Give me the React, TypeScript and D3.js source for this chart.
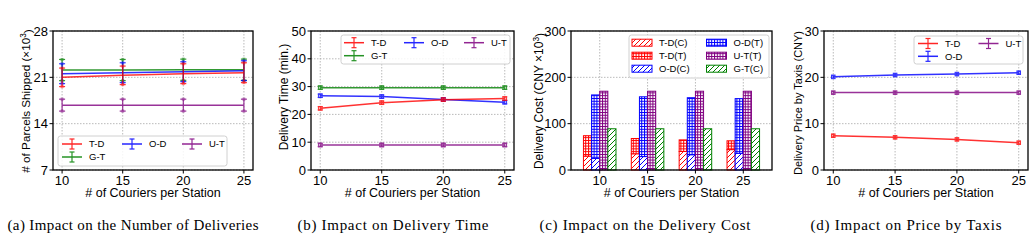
import React, { useEffect, useRef } from "react";
import * as d3 from "d3";

const W = 1035;
const H = 240;

const couriers = [10, 15, 20, 25];

// (a) parcels shipped, x10^3
const parcelsTD = [21.0, 21.3, 21.55, 21.7];
const parcelsTDErr = [1.4, 1.4, 1.5, 1.5];
const parcelsOD = [21.55, 21.7, 21.85, 22.0];
const parcelsODErr = [1.5, 1.5, 1.5, 1.5];
const parcelsGT = [22.1, 22.1, 22.15, 22.15];
const parcelsGTErr = [1.6, 1.6, 1.6, 1.6];
const parcelsUT = [16.8, 16.8, 16.8, 16.8];
const parcelsUTErr = [0.9, 0.9, 0.9, 0.9];

// (b) delivery time, minutes
const timeTD = [22.2, 24.2, 25.3, 25.7];
const timeOD = [26.7, 26.4, 25.4, 24.4];
const timeGT = [29.6, 29.6, 29.6, 29.6];
const timeUT = [9.0, 9.0, 9.0, 9.0];
const timeErr = [0.6, 0.6, 0.6, 0.6];

// (c) delivery cost, CNY x10^3 (C = courier part, T = taxi part)
const costTDC = [30, 35, 40, 44];
const costTDT = [44, 33, 25, 19];
const costODC = [25, 29, 33, 36];
const costODT = [137, 129, 123, 118];
const costUTT = [170, 170, 170, 170];
const costGTC = [89, 89, 89, 89];

// (d) price by taxis, CNY
const priceTD = [7.4, 7.05, 6.6, 5.9];
const priceOD = [20.1, 20.5, 20.7, 21.0];
const priceUT = [16.7, 16.7, 16.7, 16.7];
const priceErr = [0.25, 0.25, 0.25, 0.25];

const yTicksA = [7, 14, 21, 28];
const yTicksB = [0, 10, 20, 30, 40, 50];
const yTicksC = [0, 100, 200, 300];
const yTicksD = [0, 10, 20, 30];

const RED = "#ff0000";
const BLUE = "#0000ff";
const PURPLE = "#800080";
const GREEN = "#008000";

const SANS = "'Liberation Sans', Arial, sans-serif";
const SERIF = "'Liberation Serif', 'Times New Roman', serif";
const LABEL_SIZE = 12.5;

type Sel = d3.Selection<SVGGElement, unknown, null, undefined>;

function frame(g: Sel, x0: number, x1: number, y: d3.ScaleLinear<number, number>, yTicks: number[], xTicks: number[], xPos: (v: number, i: number) => number) {
  const y0 = y.range()[1];
  const yb = y.range()[0];
  // dotted grid
  g.selectAll(null).data(yTicks).join("line")
    .attr("x1", x0).attr("x2", x1)
    .attr("y1", d => y(d)).attr("y2", d => y(d))
    .attr("stroke", "#a8a8a8").attr("stroke-width", 0.8).attr("stroke-dasharray", "1.5,1.5");
  g.selectAll(null).data(xTicks).join("line")
    .attr("x1", (d, i) => xPos(d, i)).attr("x2", (d, i) => xPos(d, i))
    .attr("y1", y0).attr("y2", yb)
    .attr("stroke", "#a8a8a8").attr("stroke-width", 0.8).attr("stroke-dasharray", "1.5,1.5");
}

function axes(g: Sel, x0: number, x1: number, y: d3.ScaleLinear<number, number>, yTicks: number[], xTicks: number[], xPos: (v: number, i: number) => number) {
  const yt = y.range()[1];
  const yb = y.range()[0];
  g.append("rect").attr("x", x0).attr("y", yt).attr("width", x1 - x0).attr("height", yb - yt)
    .attr("fill", "none").attr("stroke", "#000").attr("stroke-width", 1.3);
  g.selectAll(null).data(yTicks).join("line")
    .attr("x1", x0 - 3.5).attr("x2", x0).attr("y1", d => y(d)).attr("y2", d => y(d))
    .attr("stroke", "#000").attr("stroke-width", 1);
  g.selectAll(null).data(yTicks).join("text")
    .attr("x", x0 - 5).attr("y", d => y(d)).attr("dy", "0.36em")
    .attr("text-anchor", "end").attr("font-family", SANS).attr("font-size", 13)
    .text(d => d);
  g.selectAll(null).data(xTicks).join("line")
    .attr("x1", (d, i) => xPos(d, i)).attr("x2", (d, i) => xPos(d, i))
    .attr("y1", yb).attr("y2", yb + 3.5)
    .attr("stroke", "#000").attr("stroke-width", 1);
  g.selectAll(null).data(xTicks).join("text")
    .attr("x", (d, i) => xPos(d, i)).attr("y", yb + 14.5)
    .attr("text-anchor", "middle").attr("font-family", SANS).attr("font-size", 13)
    .text(d => d);
  g.append("text")
    .attr("x", (x0 + x1) / 2).attr("y", yb + 27)
    .attr("text-anchor", "middle").attr("font-family", SANS).attr("font-size", LABEL_SIZE)
    .text("# of Couriers per Station");
}

function yLabel(g: Sel, x: number, yc: number, size: number, text: string, sup?: string, tail?: string) {
  const t = g.append("text")
    .attr("transform", `translate(${x},${yc}) rotate(-90)`)
    .attr("dy", "0.35em")
    .attr("text-anchor", "middle").attr("font-family", SANS).attr("font-size", size);
  t.append("tspan").text(text);
  if (sup) {
    t.append("tspan").attr("dy", "-0.45em").attr("font-size", size * 0.7).text(sup);
    t.append("tspan").attr("dy", "0.45em").text(tail || "");
  }
}

// sub-figure caption, spread to the width of the typeset line
function caption(g: Sel, x: number, width: number, text: string) {
  g.append("text").attr("x", x - width / 2).attr("y", 230)
    .attr("font-family", SERIF).attr("font-size", 15)
    .attr("textLength", width).attr("lengthAdjust", "spacing")
    .text(text);
}

type Series = { name: string; color: string; values: number[]; err: number[] };

function lineSeries(g: Sel, x: d3.ScaleLinear<number, number>, y: d3.ScaleLinear<number, number>, series: Series[], cap: number, marker: boolean) {
  const line = d3.line<number>().x((d, i) => x(couriers[i])).y(d => y(d));
  series.forEach(s => {
    const sg = g.append("g").attr("opacity", 0.8);
    sg.append("path").attr("d", line(s.values)).attr("fill", "none")
      .attr("stroke", s.color).attr("stroke-width", 1.5);
    s.values.forEach((v, i) => {
      const cx = x(couriers[i]);
      const lo = y(v - s.err[i]);
      const hi = y(v + s.err[i]);
      sg.append("line").attr("x1", cx).attr("x2", cx).attr("y1", lo).attr("y2", hi)
        .attr("stroke", s.color).attr("stroke-width", 1.2);
      [lo, hi].forEach(yy => {
        sg.append("line").attr("x1", cx - cap).attr("x2", cx + cap).attr("y1", yy).attr("y2", yy)
          .attr("stroke", s.color).attr("stroke-width", 1.2);
        if (!marker) {
          sg.append("rect").attr("x", cx - 1.5).attr("y", yy - 1.5).attr("width", 3).attr("height", 3)
            .attr("fill", s.color).attr("opacity", 0.6);
        }
      });
      if (marker) {
        sg.append("rect").attr("x", cx - 1.8).attr("y", y(v) - 1.8).attr("width", 3.6).attr("height", 3.6)
          .attr("fill", "none").attr("stroke", s.color).attr("stroke-width", 1);
      }
    });
  });
}

type LegendItem = { name: string; color: string; col: number; row: number; fill?: string };

function legendBox(g: Sel, bx: number, by: number, bw: number, bh: number) {
  g.append("rect").attr("x", bx).attr("y", by).attr("width", bw).attr("height", bh)
    .attr("rx", 2.5).attr("fill", "#fff").attr("fill-opacity", 0.85)
    .attr("stroke", "#d0d0d0").attr("stroke-width", 1);
}

function errLegend(g: Sel, bx: number, by: number, bw: number, bh: number, hx: number, colStep: number, row0: number, rowStep: number, items: LegendItem[]) {
  legendBox(g, bx, by, bw, bh);
  items.forEach(it => {
    const x = hx + it.col * colStep;
    const y = row0 + it.row * rowStep;
    const lg = g.append("g").attr("opacity", 0.85);
    lg.append("line").attr("x1", x).attr("x2", x + 20).attr("y1", y).attr("y2", y)
      .attr("stroke", it.color).attr("stroke-width", 1.5);
    lg.append("line").attr("x1", x + 10).attr("x2", x + 10).attr("y1", y - 5).attr("y2", y + 5)
      .attr("stroke", it.color).attr("stroke-width", 1.2);
    [y - 5, y + 5].forEach(yy => lg.append("line").attr("x1", x + 7.5).attr("x2", x + 12.5)
      .attr("y1", yy).attr("y2", yy).attr("stroke", it.color).attr("stroke-width", 1.2));
    g.append("text").attr("x", x + 27).attr("y", y).attr("dy", "0.35em")
      .attr("font-family", SANS).attr("font-size", 9.5).text(it.name);
  });
}

export default function App() {
  const ref = useRef<SVGSVGElement>(null);

  useEffect(() => {
    const svg = d3.select(ref.current);
    svg.selectAll("*").remove();

    // hatch patterns for the cost bars
    const defs = svg.append("defs");
    [["red", RED], ["blue", BLUE], ["purple", PURPLE], ["green", GREEN]].forEach(([k, c]) => {
      const diag = defs.append("pattern").attr("id", `diag-${k}`).attr("patternUnits", "userSpaceOnUse")
        .attr("width", 5).attr("height", 5);
      diag.append("rect").attr("width", 5).attr("height", 5).attr("fill", "#fff");
      diag.append("path").attr("d", "M-1,1 l2,-2 M0,5 l5,-5 M4,6 l2,-2")
        .attr("stroke", c).attr("stroke-width", 1);
      const grid = defs.append("pattern").attr("id", `grid-${k}`).attr("patternUnits", "userSpaceOnUse")
        .attr("width", 2.8).attr("height", 2.8);
      grid.append("rect").attr("width", 2.8).attr("height", 2.8).attr("fill", "#fff");
      grid.append("path").attr("d", "M0.5,0 V2.8 M0,0.5 H2.8").attr("stroke", c).attr("stroke-width", 1.1);
    });

    const root = svg.append("g") as unknown as Sel;
    const top = 31;
    const bottom = 170;

    // (a) number of deliveries
    {
      const g = root.append("g") as Sel;
      const x = d3.scaleLinear().domain([9.25, 25.75]).range([53, 253]);
      const y = d3.scaleLinear().domain([7, 28]).range([bottom, top]);
      const xp = (v: number) => x(v);
      frame(g, 53, 253, y, yTicksA, couriers, xp);
      lineSeries(g, x, y, [
        { name: "G-T", color: GREEN, values: parcelsGT, err: parcelsGTErr },
        { name: "O-D", color: BLUE, values: parcelsOD, err: parcelsODErr },
        { name: "T-D", color: RED, values: parcelsTD, err: parcelsTDErr },
        { name: "U-T", color: PURPLE, values: parcelsUT, err: parcelsUTErr },
      ], 3, false);
      errLegend(g, 58, 136, 169, 30, 62, 60, 144, 13, [
        { name: "T-D", color: RED, col: 0, row: 0 },
        { name: "G-T", color: GREEN, col: 0, row: 1 },
        { name: "O-D", color: BLUE, col: 1, row: 0 },
        { name: "U-T", color: PURPLE, col: 2, row: 0 },
      ]);
      axes(g, 53, 253, y, yTicksA, couriers, xp);
      yLabel(g, 26, 101, 11.7, "# of Parcels Shipped (\u00d710", "3", ")");
      caption(g, 133, 251, "(a) Impact on the Number of Deliveries");
    }

    // (b) delivery time
    {
      const g = root.append("g") as Sel;
      const x = d3.scaleLinear().domain([9.25, 25.75]).range([311, 514]);
      const y = d3.scaleLinear().domain([0, 50]).range([bottom, top]);
      const xp = (v: number) => x(v);
      frame(g, 311, 514, y, yTicksB, couriers, xp);
      lineSeries(g, x, y, [
        { name: "G-T", color: GREEN, values: timeGT, err: timeErr },
        { name: "O-D", color: BLUE, values: timeOD, err: timeErr },
        { name: "T-D", color: RED, values: timeTD, err: timeErr },
        { name: "U-T", color: PURPLE, values: timeUT, err: timeErr },
      ], 2.5, true);
      errLegend(g, 341, 35, 169, 29, 344, 60, 42.7, 13, [
        { name: "T-D", color: RED, col: 0, row: 0 },
        { name: "G-T", color: GREEN, col: 0, row: 1 },
        { name: "O-D", color: BLUE, col: 1, row: 0 },
        { name: "U-T", color: PURPLE, col: 2, row: 0 },
      ]);
      axes(g, 311, 514, y, yTicksB, couriers, xp);
      yLabel(g, 284, 97, 12, "Delivery Time (min.)");
      caption(g, 393, 191, "(b) Impact on Delivery Time");
    }

    // (c) delivery cost, stacked hatched bars
    {
      const g = root.append("g") as Sel;
      const x = d3.scaleLinear().domain([-0.6, 3.6]).range([571, 772]);
      const y = d3.scaleLinear().domain([0, 300]).range([bottom, top]);
      const xp = (v: number, i: number) => x(i);
      frame(g, 571, 772, y, yTicksC, couriers, xp);
      const bw = x(0.17) - x(0);
      const bar = (cx: number, lo: number, hi: number, color: string, fill: string) =>
        g.append("rect").attr("x", cx).attr("y", y(hi)).attr("width", bw).attr("height", y(lo) - y(hi))
          .attr("fill", `url(#${fill})`).attr("stroke", color).attr("stroke-width", 1);
      couriers.forEach((_, i) => {
        const c = x(i);
        bar(c - 2 * bw, 0, costTDC[i], RED, "diag-red");
        bar(c - 2 * bw, costTDC[i], costTDC[i] + costTDT[i], RED, "grid-red");
        bar(c - bw, 0, costODC[i], BLUE, "diag-blue");
        bar(c - bw, costODC[i], costODC[i] + costODT[i], BLUE, "grid-blue");
        bar(c, 0, costUTT[i], PURPLE, "grid-purple");
        bar(c + bw, 0, costGTC[i], GREEN, "diag-green");
      });
      legendBox(g, 629, 35, 140, 43);
      const items: LegendItem[] = [
        { name: "T-D(C)", color: RED, fill: "diag-red", col: 0, row: 0 },
        { name: "T-D(T)", color: RED, fill: "grid-red", col: 0, row: 1 },
        { name: "O-D(C)", color: BLUE, fill: "diag-blue", col: 0, row: 2 },
        { name: "O-D(T)", color: BLUE, fill: "grid-blue", col: 1, row: 0 },
        { name: "U-T(T)", color: PURPLE, fill: "grid-purple", col: 1, row: 1 },
        { name: "G-T(C)", color: GREEN, fill: "diag-green", col: 1, row: 2 },
      ];
      items.forEach(it => {
        const lx = 632 + it.col * 74.5;
        const ly = 42.7 + it.row * 13;
        g.append("rect").attr("x", lx).attr("y", ly - 3.5).attr("width", 20).attr("height", 7)
          .attr("fill", `url(#${it.fill})`).attr("stroke", it.color).attr("stroke-width", 1);
        g.append("text").attr("x", lx + 27).attr("y", ly).attr("dy", "0.35em")
          .attr("font-family", SANS).attr("font-size", 9.5).text(it.name);
      });
      axes(g, 571, 772, y, yTicksC, couriers, xp);
      yLabel(g, 538.5, 101, 12, "Delivery Cost (CNY \u00d710", "3", ")");
      caption(g, 645, 211, "(c) Impact on the Delivery Cost");
    }

    // (d) price by taxis
    {
      const g = root.append("g") as Sel;
      const x = d3.scaleLinear().domain([9.25, 25.75]).range([824, 1028]);
      const y = d3.scaleLinear().domain([0, 30]).range([bottom, top]);
      const xp = (v: number) => x(v);
      frame(g, 824, 1028, y, yTicksD, couriers, xp);
      lineSeries(g, x, y, [
        { name: "O-D", color: BLUE, values: priceOD, err: priceErr },
        { name: "T-D", color: RED, values: priceTD, err: priceErr },
        { name: "U-T", color: PURPLE, values: priceUT, err: priceErr },
      ], 1.5, true);
      errLegend(g, 914, 36, 109, 28, 918, 60.5, 43.5, 12.8, [
        { name: "T-D", color: RED, col: 0, row: 0 },
        { name: "O-D", color: BLUE, col: 0, row: 1 },
        { name: "U-T", color: PURPLE, col: 1, row: 0 },
      ]);
      axes(g, 824, 1028, y, yTicksD, couriers, xp);
      yLabel(g, 798, 103, 11, "Delivery Price by Taxis (CNY)");
      caption(g, 906, 191, "(d) Impact on Price by Taxis");
    }
  }, []);

  return (
    <div style={{ position: "absolute", left: 0, top: 0, background: "#fff" }}>
      <svg ref={ref} width={W} height={H} style={{ display: "block" }} />
    </div>
  );
}
